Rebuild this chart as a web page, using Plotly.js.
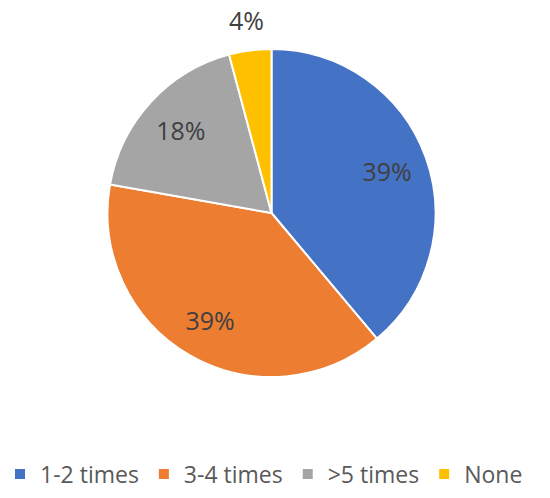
<!DOCTYPE html>
<html>
<head>
<meta charset="utf-8">
<script src="https://cdn.plot.ly/plotly-3.0.1.min.js"></script>
<style>html,body{margin:0;padding:0;background:#fff;}#chart{width:550px;height:498px;}</style>
</head>
<body>
<div id="chart"></div>
<script>
const categories = ['1-2 times', '3-4 times', '>5 times', 'None'];
const values = [28, 28, 13, 3];
const colors = ['#4472C4', '#ED7D31', '#A5A5A5', '#FFC000'];
const insideLabel = [true, true, true, false];

const W = 550, H = 498;
const cx = 271.5, cy = 213, R = 164;           // pie centre / radius in px
const dom = {
  x: [(cx - R) / W, (cx + R) / W],
  y: [(H - cy - R) / H, (H - cy + R) / H]
};

// main pie: slices + legend, no text
const pieTrace = {
  type: 'pie',
  labels: categories,
  values: values,
  sort: false,
  direction: 'clockwise',
  rotation: 0,
  domain: dom,
  marker: { colors: colors, line: { color: '#ffffff', width: 2 } },
  textinfo: 'none',
  hoverinfo: 'label+percent'
};

// transparent ring carrying the in-slice percentage labels
const labelTrace = {
  type: 'pie',
  labels: categories,
  values: values,
  sort: false,
  direction: 'clockwise',
  rotation: 0,
  domain: dom,
  hole: 0.5,
  showlegend: false,
  marker: { colors: ['rgba(0,0,0,0)', 'rgba(0,0,0,0)', 'rgba(0,0,0,0)', 'rgba(0,0,0,0)'], line: { width: 0 } },
  texttemplate: insideLabel.map(v => v ? '%{percent:.0%}' : ''),
  textposition: insideLabel.map(v => v ? 'inside' : 'none'),
  insidetextorientation: 'horizontal',
  textfont: { family: 'Open Sans', size: 25, color: '#404040' },
  hoverinfo: 'skip'
};

// outside label for small slices, placed from the cumulative data
const total = values.reduce((a, b) => a + b, 0);
const annotations = [];
let cum = 0;
values.forEach((v, i) => {
  const mid = (cum + v / 2) / total;
  cum += v;
  if (insideLabel[i]) return;
  const ang = mid * 2 * Math.PI;
  const rr = R * 1.19;
  annotations.push({
    xref: 'paper', yref: 'paper',
    x: (cx + rr * Math.sin(ang)) / W,
    y: (H - cy + rr * Math.cos(ang)) / H,
    xanchor: 'center', yanchor: 'middle',
    showarrow: false,
    text: Math.round(v / total * 100) + '%',
    font: { family: 'Open Sans', size: 25, color: '#404040' }
  });
});

const layout = {
  width: W,
  height: H,
  margin: { l: 0, r: 0, t: 0, b: 0 },
  paper_bgcolor: '#ffffff',
  plot_bgcolor: '#ffffff',
  showlegend: true,
  annotations: annotations,
  legend: {
    orientation: 'h',
    x: 0.476, xanchor: 'center',
    y: 0.048, yanchor: 'middle',
    font: { family: 'Open Sans', size: 23, color: '#595959' },
    traceorder: 'normal'
  }
};

Plotly.newPlot('chart', [pieTrace, labelTrace], layout, { displayModeBar: false, staticPlot: true });
</script>
</body>
</html>
